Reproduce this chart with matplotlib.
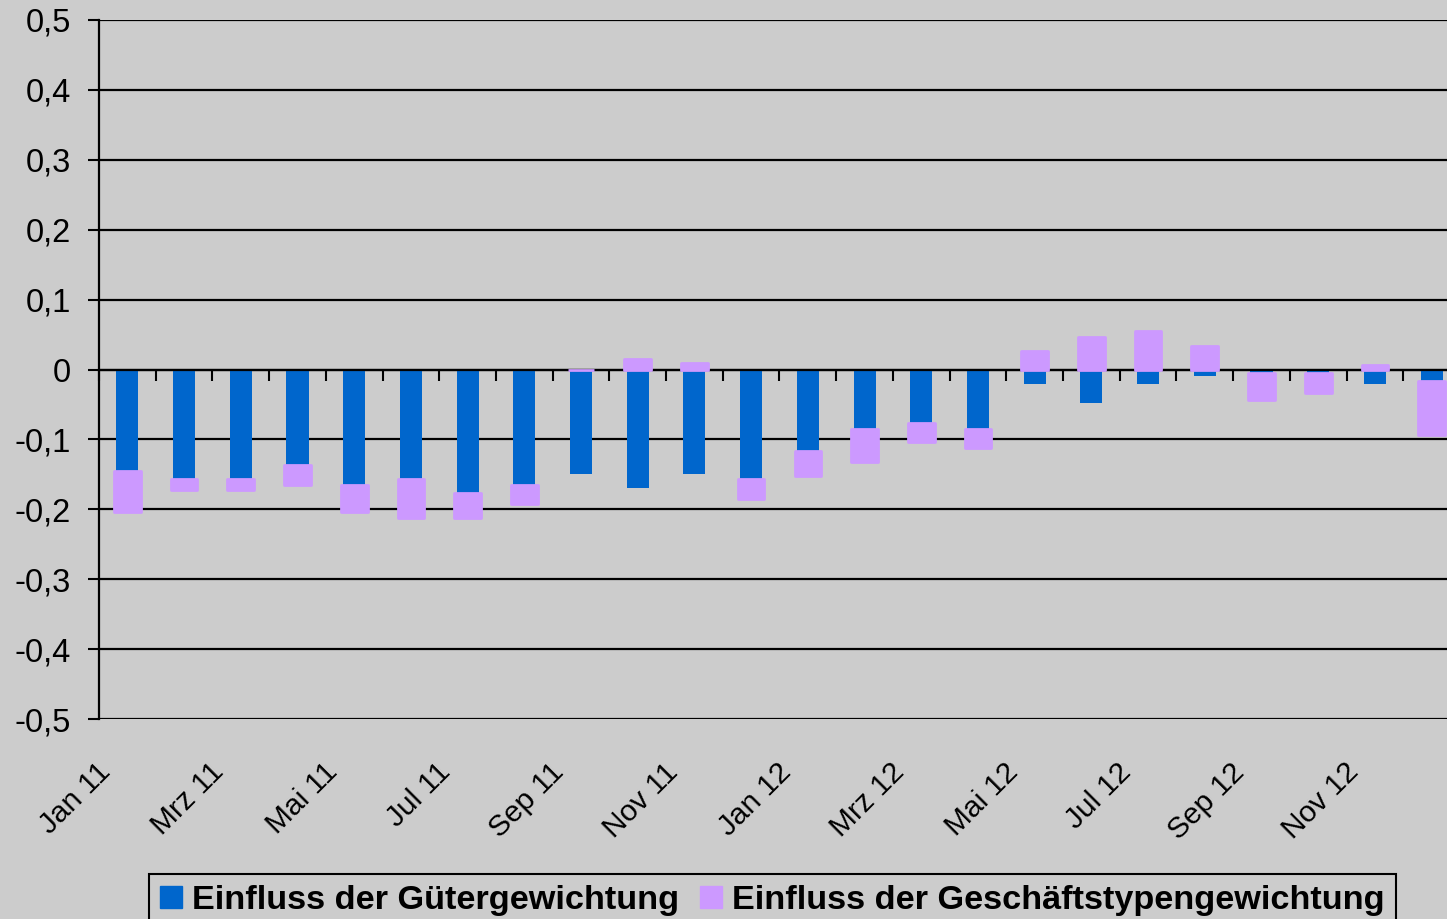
import numpy as np
import matplotlib
matplotlib.use("Agg")
import matplotlib.pyplot as plt
from matplotlib.patches import Patch
from matplotlib.transforms import ScaledTranslation

plt.rcParams["font.family"] = ["Liberation Sans", "DejaVu Sans"]

months = ["Jan 11", "Feb 11", "Mrz 11", "Apr 11", "Mai 11", "Jun 11",
          "Jul 11", "Aug 11", "Sep 11", "Okt 11", "Nov 11", "Dez 11",
          "Jan 12", "Feb 12", "Mrz 12", "Apr 12", "Mai 12", "Jun 12",
          "Jul 12", "Aug 12", "Sep 12", "Okt 12", "Nov 12", "Dez 12"]
gueter = [-0.145, -0.156, -0.156, -0.136, -0.165, -0.156, -0.176, -0.165,
          -0.149, -0.169, -0.149, -0.156, -0.117, -0.085, -0.076, -0.085,
          -0.021, -0.048, -0.021, -0.010, -0.005, -0.005, -0.021, -0.017]
geschaeft = [-0.059, -0.017, -0.017, -0.029, -0.039, -0.057, -0.037, -0.028,
             0.0, 0.015, 0.009, -0.029, -0.036, -0.048, -0.028, -0.028,
             0.026, 0.046, 0.055, 0.034, -0.039, -0.028, 0.006, -0.076]
yticks = [-0.5, -0.4, -0.3, -0.2, -0.1, 0.0, 0.1, 0.2, 0.3, 0.4, 0.5]

BG = "#CCCCCC"
BLUE = "#0066CC"
PURPLE = "#CC99FF"

x = np.arange(len(months))
g = np.array(gueter)
p = np.array(geschaeft)
# stacked like excel: negatives stack on negatives, positives on positives
bottom_p = np.where(p < 0, np.minimum(g, 0), np.maximum(g, 0))

fig = plt.figure(figsize=(14.47, 9.19), dpi=100, facecolor=BG)
ax = fig.add_axes([99 / 1447, 1 - 719 / 919, 1361 / 1447, 699 / 919])
ax.set_facecolor(BG)

ax.bar(x, g, width=0.39, color=BLUE, zorder=2)
ax.bar(x, p, width=0.47, bottom=bottom_p, color=PURPLE, edgecolor=PURPLE,
       linewidth=2, joinstyle="round", zorder=3)

ax.set_xlim(-0.5, len(months) - 0.5)
ax.set_ylim(-0.5, 0.5)
ax.set_yticks(yticks)
ax.set_yticklabels(["0" if v == 0 else f"{v:.1f}".replace(".", ",") for v in yticks])
ax.tick_params(axis="y", length=8, width=1.5, direction="out", pad=12,
               labelsize=23.5, colors="black")
ax.grid(axis="y", color="black", linewidth=1.6)
ax.set_axisbelow(True)

for s in ["top", "right"]:
    ax.spines[s].set_visible(False)
ax.spines["left"].set_linewidth(1.6)
ax.spines["bottom"].set_position(("data", 0))
ax.spines["bottom"].set_linewidth(1.6)

# category boundary ticks on the zero line
ax.set_xticks(np.arange(len(months) + 1) - 0.5)
ax.tick_params(axis="x", length=7.7, width=1.5, direction="out", labelbottom=False)

# month labels at the bottom of the plot
sec = ax.secondary_xaxis("bottom")
sec.spines["bottom"].set_visible(False)
sec.set_xticks(x[::2])
sec.set_xticklabels(months[::2])
sec.tick_params(length=0, pad=28, labelsize=21.5)
shift = ScaledTranslation(-0.31, 0, fig.dpi_scale_trans)
for lab in sec.get_xticklabels():
    lab.set_rotation(45)
    lab.set_ha("right")
    lab.set_rotation_mode("anchor")
    lab.set_transform(lab.get_transform() + shift)

handles = [Patch(facecolor=BLUE, edgecolor=BLUE),
           Patch(facecolor=PURPLE, edgecolor=PURPLE)]
leg = fig.legend(handles, ["Einfluss der Gütergewichtung",
                           "Einfluss der Geschäftstypengewichtung"],
                 loc="upper left", bbox_to_anchor=(149 / 1447, 1 - 874 / 919),
                 ncol=2, frameon=True, fancybox=False, facecolor=BG,
                 edgecolor="black", framealpha=1,
                 prop={"weight": "bold", "size": 24.7},
                 handlelength=0.63, handleheight=0.63, handletextpad=0.3,
                 columnspacing=0.6, borderpad=0.33, borderaxespad=0)
leg.get_frame().set_linewidth(1.5)

fig.savefig("out.png", dpi=100, facecolor=BG)
